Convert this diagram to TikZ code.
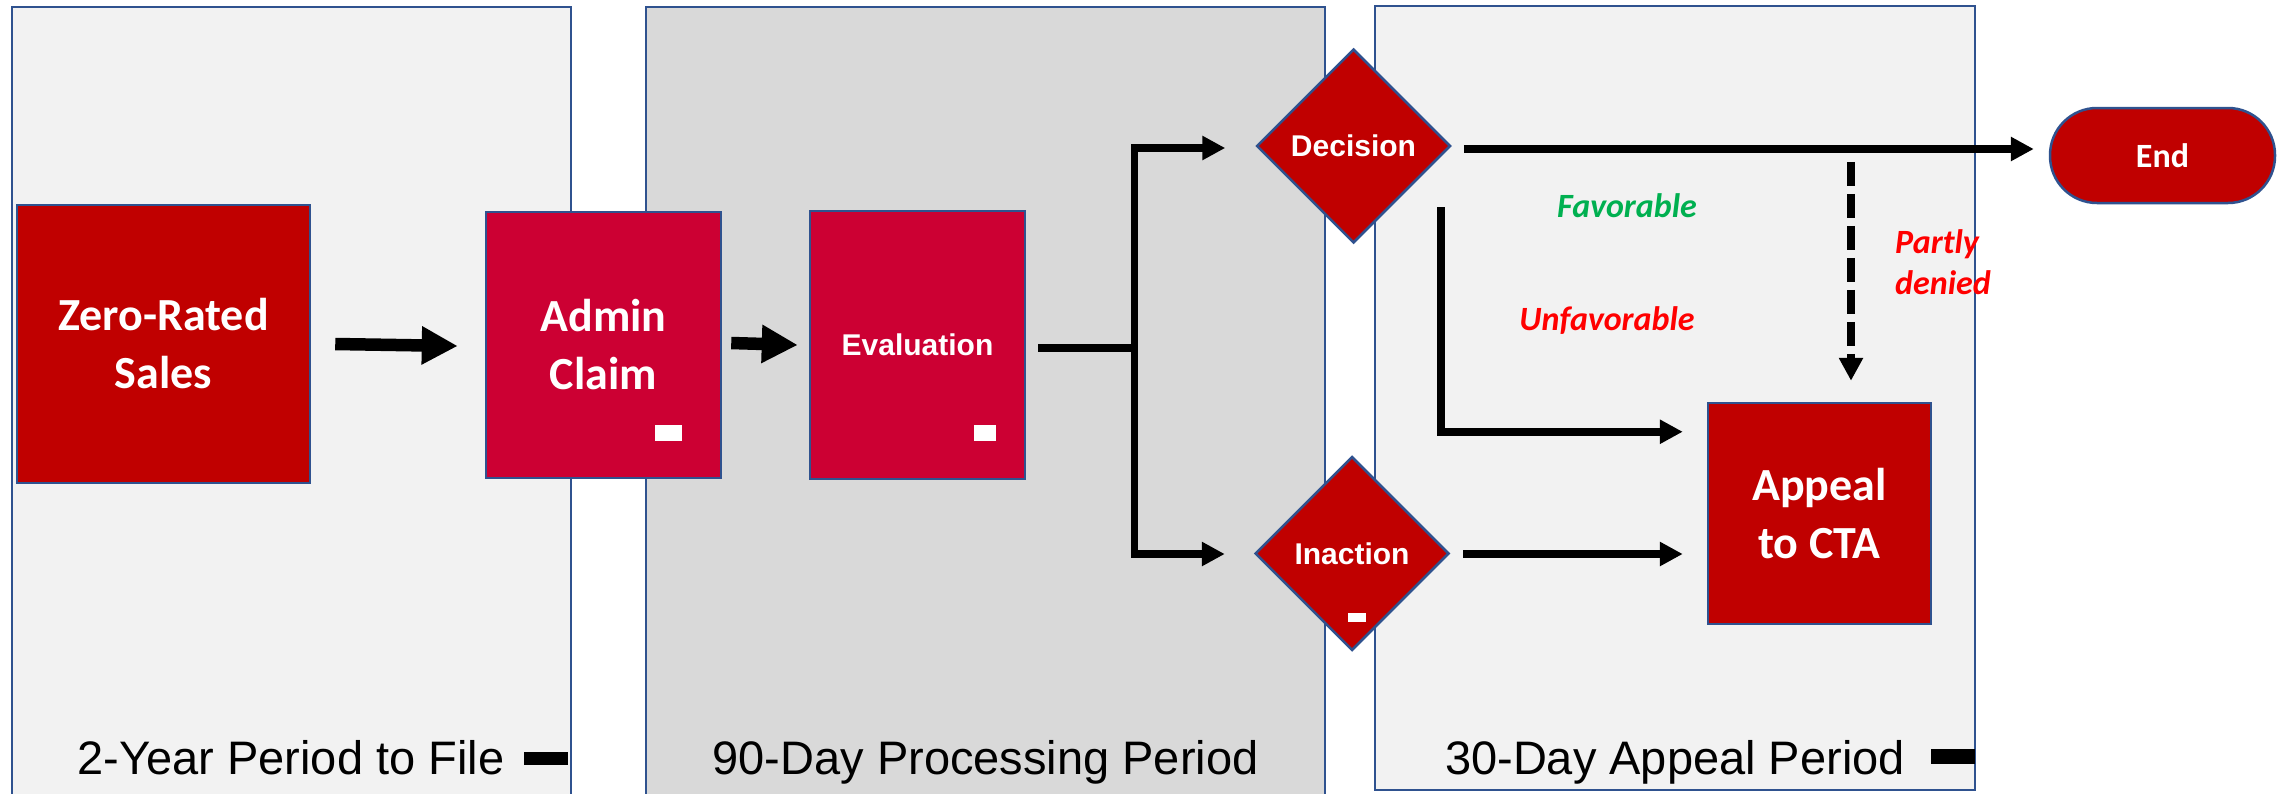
\documentclass[tikz,border=0pt]{standalone}
\usepackage{fontspec}
\setmainfont{Liberation Sans}
\newfontfamily\calfont{Carlito}
\usetikzlibrary{shapes.geometric,arrows.meta,calc}
\definecolor{boxred}{RGB}{192,0,0}
\definecolor{crimson}{RGB}{204,0,51}
\definecolor{lanelight}{RGB}{242,242,242}
\definecolor{lanegray}{RGB}{217,217,217}
\definecolor{edgeblue}{RGB}{47,82,143}
\definecolor{okgreen}{RGB}{0,176,80}
\definecolor{alertred}{RGB}{255,0,0}
\begin{document}
\begin{tikzpicture}[x=1pt,y=-1pt,
  lane/.style={draw=edgeblue,line width=2pt},
  procbox/.style={draw=edgeblue,line width=2.5pt,fill=boxred,text=white,align=center,inner sep=0pt},
  calbig/.style={font=\calfont\bfseries\fontsize{46}{58}\selectfont},
  arisemi/.style={font=\bfseries\fontsize{30}{36}\selectfont},
  decide/.style={diamond,aspect=1,draw=edgeblue,line width=2.5pt,fill=boxred,text=white,
                 minimum width=194pt,minimum height=194pt,inner sep=0pt},
  fatarrow/.style={line width=12.5pt,-{Triangle[length=36pt,width=36pt]}},
  conn/.style={line width=7.5pt,-{Triangle[length=23pt,width=23pt]}},
  plain/.style={line width=7.5pt},
  tag/.style={font=\calfont\bfseries\itshape\fontsize{34}{41}\selectfont,inner sep=0pt},
  lanelabel/.style={font=\fontsize{47}{56}\selectfont,inner sep=0pt,anchor=base},
]
\useasboundingbox (0,0) rectangle (2280,793);
\fill[white] (0,0) rectangle (2280,793);

% swim lanes
\filldraw[lane,fill=lanelight] (12,7) rectangle (571,800);
\filldraw[lane,fill=lanegray] (646,7) rectangle (1325,800);
\filldraw[lane,fill=lanelight] (1375,6) rectangle (1975,790);

\node[lanelabel] (l1) at (291,774) {2-Year Period to File};
\node[lanelabel] (l2) at (985.5,774) {90-Day Processing Period};
\node[lanelabel] (l3) at (1675,774) {30-Day Appeal Period};
\fill (524,752) rectangle (568,765);
\fill (1931,749) rectangle (1975,764);

% process steps
\node[procbox,calbig,minimum width=293pt,minimum height=278pt] (zrs) at (163.5,344) {Zero-Rated\\Sales};
\node[procbox,calbig,fill=crimson,minimum width=235pt,minimum height=266pt] (adm) at (603.5,345) {Admin\\Claim};
\node[procbox,arisemi,fill=crimson,minimum width=215pt,minimum height=268pt] (eva) at (917.5,345) {Evaluation};
\node[decide,arisemi] (dec) at (1353.5,146) {Decision};
\node[decide,arisemi] (ina) at (1352,553.5) {Inaction};
\node[procbox,calbig,minimum width=223pt,minimum height=221pt] (app) at (1819.5,513.5) {Appeal\\to CTA};
\node[procbox,font=\calfont\bfseries\fontsize{34}{40}\selectfont,minimum width=225pt,minimum height=95pt,
      rounded corners=47pt] (endn) at (2162.5,155.5) {End};

\fill[white] (655,425) rectangle (682,441);
\fill[white] (974,425) rectangle (996,441);
\fill[white] (1348,613) rectangle (1366,622);

% connectors
\draw[fatarrow] ($(zrs.east)+(24,0)$) -- ($(adm.west)+(-27,1)$);
\draw[fatarrow] ($(adm.east)+(9,-2)$) -- ($(eva.west)+(-11,0)$);
\coordinate (split) at ($(eva.east)+(108,3)$);
\draw[plain] ($(eva.east)+(12,3)$) -- (split);
\draw[conn] (split) |- ($(dec.west)+(-30,2)$);
\draw[conn] (split) |- ($(ina.west)+(-29,0.5)$);

\coordinate (d0) at ($(dec.east)+(12,3)$);
\draw[conn,shorten >=15pt] (d0) -- (d0 -| endn.west);
\coordinate (u0) at ($(dec.east)+(-11,61)$);
\draw[conn,shorten >=24pt] (u0) |- ($(app.north west)+(0,30)$);
\coordinate (i0) at ($(ina.east)+(13,0.5)$);
\draw[conn,shorten >=24pt] (i0) -- (i0 -| app.west);
\coordinate (p0) at ($(app.north)+(31.5,-240)$);
\draw[conn,dash pattern=on 24pt off 8pt,shorten >=21pt] (p0) -- (p0 |- app.north);

% outcome labels
\node[tag,text=okgreen,anchor=base] (fav) at (1627,217) {Favorable};
\node[tag,text=alertred,anchor=base] (unf) at (1607,330) {Unfavorable};
\node[tag,text=alertred,anchor=west,align=left] (part) at (1895,262) {Partly\\denied};
\end{tikzpicture}
\end{document}
